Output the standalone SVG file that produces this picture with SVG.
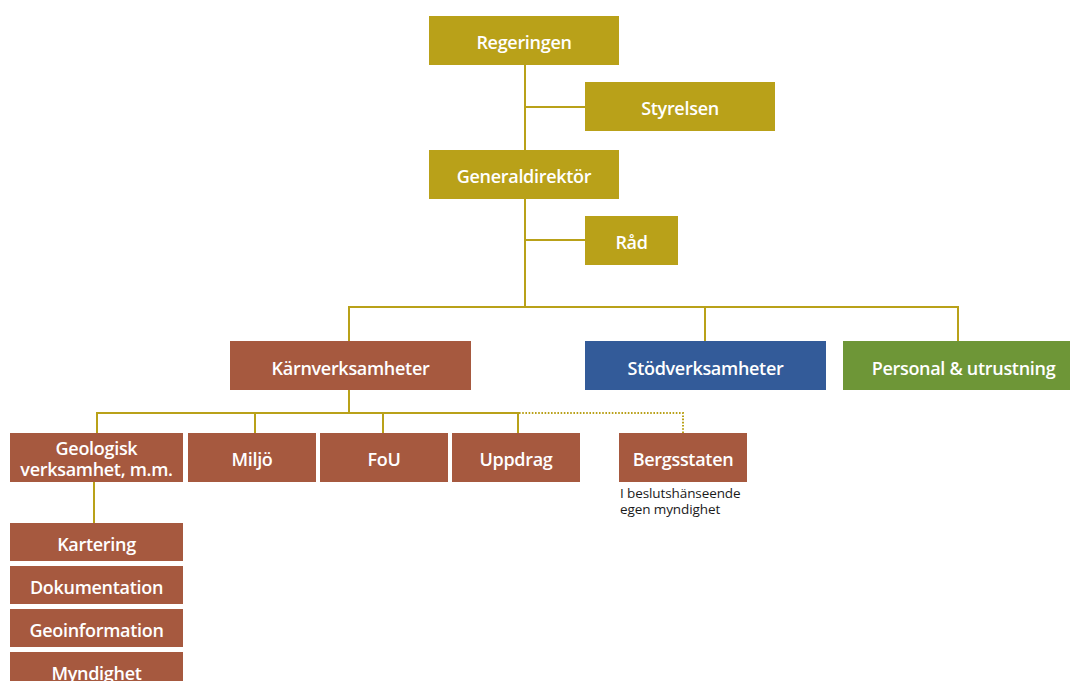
<svg xmlns="http://www.w3.org/2000/svg" width="1070" height="681" viewBox="0 0 1070 681">
<style>
.gold{fill:#B9A119}
.brown{fill:#A6593F}
.blue{fill:#335B99}
.green{fill:#6E9637}
.lbl{font-family:"Open Sans","Noto Sans","Liberation Sans",sans-serif;font-weight:600;font-size:18px;letter-spacing:-0.3px;fill:#FFFFFF;text-anchor:middle}
.note{font-family:"Open Sans","Noto Sans","Liberation Sans",sans-serif;font-weight:400;font-size:13.5px;letter-spacing:-0.1px;fill:#1A1A1A}
.ln{fill:none;stroke:#B9A119;stroke-width:2}
.dot{fill:none;stroke:#B9A119;stroke-width:2;stroke-dasharray:1.6 1.6}
</style>
<rect width="1070" height="681" fill="#FFFFFF"/>
<g id="connectors">
<path class="ln" d="M525 65V307M525 107H585M525 240H585"/>
<path class="ln" d="M349 341V307H958V341M705 307V341"/>
<path class="ln" d="M349 390V413M97 433V413H518V433M255 413V433M383 413V433"/>
<path class="dot" d="M519 413H683V433"/>
<path class="ln" d="M94 482V523"/>
</g>
<g id="regeringen"><rect class="gold" x="429" y="16" width="190" height="49"/><text class="lbl" x="524" y="49">Regeringen</text></g>
<g id="styrelsen"><rect class="gold" x="585" y="82" width="190" height="49"/><text class="lbl" x="680" y="115">Styrelsen</text></g>
<g id="generaldirektor"><rect class="gold" x="429" y="150" width="190" height="49"/><text class="lbl" x="524" y="183">Generaldirektör</text></g>
<g id="rad"><rect class="gold" x="585" y="216" width="93" height="49"/><text class="lbl" x="631.5" y="249">Råd</text></g>
<g id="karnverksamheter"><rect class="brown" x="230" y="341" width="241" height="49"/><text class="lbl" x="350.5" y="375">Kärnverksamheter</text></g>
<g id="stodverksamheter"><rect class="blue" x="585" y="341" width="241" height="49"/><text class="lbl" x="705.5" y="375">Stödverksamheter</text></g>
<g id="personal"><rect class="green" x="843" y="341" width="241" height="49"/><text class="lbl" x="963.5" y="375">Personal &amp; utrustning</text></g>
<g id="geologisk"><rect class="brown" x="10" y="433" width="173" height="49"/><text class="lbl" x="96.5" y="455">Geologisk</text><text class="lbl" x="96.5" y="475.5">verksamhet, m.m.</text></g>
<g id="miljo"><rect class="brown" x="188" y="433" width="128" height="49"/><text class="lbl" x="252" y="466">Miljö</text></g>
<g id="fou"><rect class="brown" x="320" y="433" width="128" height="49"/><text class="lbl" x="384" y="466">FoU</text></g>
<g id="uppdrag"><rect class="brown" x="452" y="433" width="128" height="49"/><text class="lbl" x="516" y="466">Uppdrag</text></g>
<g id="bergsstaten"><rect class="brown" x="619" y="433" width="128" height="49"/><text class="lbl" x="683" y="466">Bergsstaten</text><text class="note" x="620" y="498">I beslutshänseende</text><text class="note" x="620" y="514">egen myndighet</text></g>
<g id="kartering"><rect class="brown" x="10" y="523" width="173" height="38"/><text class="lbl" x="96.5" y="551">Kartering</text></g>
<g id="dokumentation"><rect class="brown" x="10" y="566" width="173" height="38"/><text class="lbl" x="96.5" y="594">Dokumentation</text></g>
<g id="geoinformation"><rect class="brown" x="10" y="609" width="173" height="38"/><text class="lbl" x="96.5" y="637">Geoinformation</text></g>
<g id="myndighet"><rect class="brown" x="10" y="652" width="173" height="38"/><text class="lbl" x="96.5" y="680">Myndighet</text></g>
</svg>
